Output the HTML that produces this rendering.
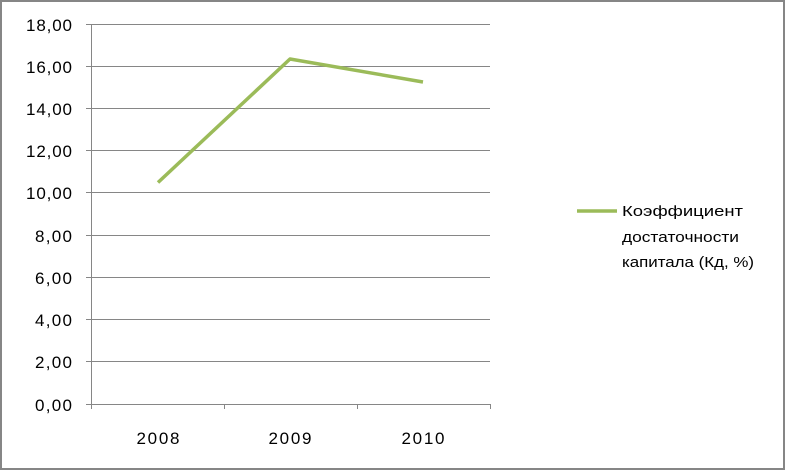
<!DOCTYPE html>
<html><head><meta charset="utf-8"><style>
html,body{margin:0;padding:0;background:#fff;}
svg{display:block;}
text{font-family:"Liberation Sans",sans-serif;fill:#000;}
</style></head><body>
<svg width="786" height="471" viewBox="0 0 786 471" xmlns="http://www.w3.org/2000/svg">
<rect x="1" y="1" width="783" height="468" fill="#fff" stroke="#868686" stroke-width="2"/>
<g stroke="#868686" stroke-width="1" shape-rendering="crispEdges">
<line x1="86" y1="24.5" x2="490" y2="24.5"/>
<line x1="86" y1="66.5" x2="490" y2="66.5"/>
<line x1="86" y1="108.5" x2="490" y2="108.5"/>
<line x1="86" y1="150.5" x2="490" y2="150.5"/>
<line x1="86" y1="192.5" x2="490" y2="192.5"/>
<line x1="86" y1="235.5" x2="490" y2="235.5"/>
<line x1="86" y1="277.5" x2="490" y2="277.5"/>
<line x1="86" y1="319.5" x2="490" y2="319.5"/>
<line x1="86" y1="361.5" x2="490" y2="361.5"/>
<line x1="86" y1="404.5" x2="490" y2="404.5"/>
<line x1="91.5" y1="24" x2="91.5" y2="409"/>
<line x1="224.5" y1="404" x2="224.5" y2="409"/>
<line x1="357.5" y1="404" x2="357.5" y2="409"/>
<line x1="490.5" y1="404" x2="490.5" y2="409"/>
</g>
<g font-size="17" text-anchor="end" lengthAdjust="spacingAndGlyphs">
<text x="72" y="31" textLength="46">18,00</text>
<text x="72" y="73" textLength="46">16,00</text>
<text x="72" y="115" textLength="46">14,00</text>
<text x="72" y="157" textLength="46">12,00</text>
<text x="72" y="199" textLength="46">10,00</text>
<text x="72" y="242" textLength="37">8,00</text>
<text x="72" y="284" textLength="37">6,00</text>
<text x="72" y="326" textLength="37">4,00</text>
<text x="72" y="368" textLength="37">2,00</text>
<text x="72" y="411" textLength="37">0,00</text>
</g>
<g font-size="17" text-anchor="middle">
<text x="158" y="444" textLength="43">2008</text>
<text x="290" y="444" textLength="43">2009</text>
<text x="423" y="444" textLength="43">2010</text>
</g>
<polyline points="158,182.5 290,59 423,82" fill="none" stroke="#9BBB59" stroke-width="3.5" stroke-linejoin="round"/>
<line x1="577" y1="211" x2="617" y2="211" stroke="#9BBB59" stroke-width="3.5"/>
<g font-size="15">
<text x="622" y="216" textLength="121" lengthAdjust="spacingAndGlyphs">Коэффициент</text>
<text x="622" y="242" textLength="117" lengthAdjust="spacingAndGlyphs">достаточности</text>
<text x="622" y="267" textLength="132" lengthAdjust="spacingAndGlyphs">капитала (Кд, %)</text>
</g>
</svg>
</body></html>
